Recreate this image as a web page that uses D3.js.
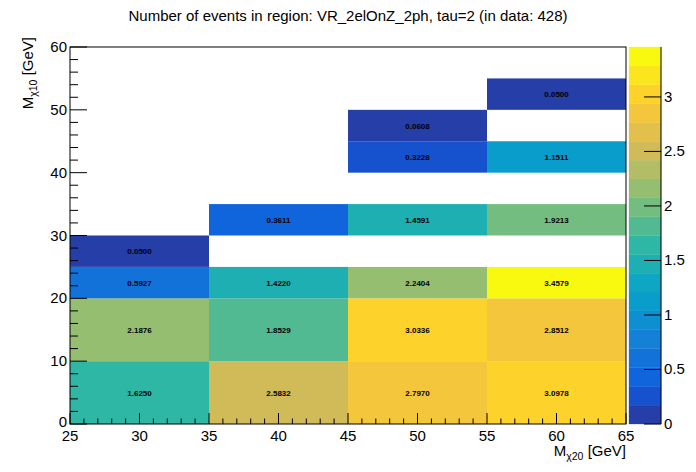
<!DOCTYPE html>
<html>
<head>
<meta charset="utf-8">
<script src="https://cdn.jsdelivr.net/npm/d3@7"></script>
<style>
  body { margin: 0; background: #fff; }
  svg { display: block; font-family: "Liberation Sans", Arial, Helvetica, sans-serif; }
</style>
</head>
<body>
<svg id="c" width="696" height="472"></svg>
<script>
// ---- data ----
const xEdges = [25, 35, 45, 55, 65];
const yEdges = [0, 10, 20, 25, 30, 35, 40, 45, 50, 55, 60];
// cells: [xBinIndex, yBinIndex, value]
const cellX = [0, 1, 2, 3, 0, 1, 2, 3, 0, 1, 2, 3, 0, 1, 2, 3, 2, 3, 2, 3];
const cellY = [0, 0, 0, 0, 1, 1, 1, 1, 2, 2, 2, 2, 3, 4, 4, 4, 6, 6, 7, 8];
const cellV = [1.6250, 2.5832, 2.7970, 3.0978,
               2.1876, 1.8529, 3.0336, 2.8512,
               0.5927, 1.4220, 2.2404, 3.4579,
               0.0500, 0.3611, 1.4591, 1.9213,
               0.3228, 1.1511, 0.0608, 0.0500];
const xTicks = [25, 30, 35, 40, 45, 50, 55, 60, 65];
const yTicks = [0, 10, 20, 30, 40, 50, 60];
const zTicks = [0, 0.5, 1, 1.5, 2, 2.5, 3];
const titleText = "Number of events in region: VR_2elOnZ_2ph, tau=2 (in data: 428)";

// ---- kBird palette (ROOT) ----
const stops = [0.0000, 0.1250, 0.2500, 0.3750, 0.5000, 0.6250, 0.7500, 0.8750, 1.0000];
const red   = [0.2082, 0.0592, 0.0780, 0.0232, 0.1802, 0.5301, 0.8186, 0.9956, 0.9764];
const green = [0.1664, 0.3599, 0.5041, 0.6419, 0.7178, 0.7492, 0.7328, 0.7862, 0.9832];
const blue  = [0.5293, 0.8684, 0.8385, 0.7914, 0.6425, 0.4662, 0.3499, 0.1968, 0.0539];
const NCOL = 255;
const palette = [];
for (let g = 1; g < stops.length; g++) {
  const n = Math.floor(NCOL * stops[g]) - Math.floor(NCOL * stops[g - 1]);
  for (let c = 0; c < n; c++) {
    const r = red[g - 1] + c * (red[g] - red[g - 1]) / n;
    const gg = green[g - 1] + c * (green[g] - green[g - 1]) / n;
    const b = blue[g - 1] + c * (blue[g] - blue[g - 1]) / n;
    palette.push(d3.rgb(Math.round(r * 255), Math.round(gg * 255), Math.round(b * 255)).formatHex());
  }
}
const NDIV = 20;
const zmin = 0, zmax = d3.max(cellV);
function bandColor(i) {
  const idx = Math.floor((i + 0.99) * palette.length / NDIV);
  return palette[Math.min(idx, palette.length - 1)];
}
function valueColor(v) {
  let i = Math.floor(0.01 + (v - zmin) * NDIV / (zmax - zmin));
  if (i > NDIV - 1) i = NDIV - 1;
  return bandColor(i);
}

// ---- layout ----
const svg = d3.select("#c");
const L = 70, R = 626, T = 47, B = 424;
const x = d3.scaleLinear().domain([25, 65]).range([L, R]);
const y = d3.scaleLinear().domain([0, 60]).range([B, T]);

// cells
const cells = cellV.map((v, i) => ({ xi: cellX[i], yi: cellY[i], v }));
svg.append("g").selectAll("rect").data(cells).join("rect")
  .attr("x", d => x(xEdges[d.xi]))
  .attr("y", d => y(yEdges[d.yi + 1]))
  .attr("width", d => x(xEdges[d.xi + 1]) - x(xEdges[d.xi]))
  .attr("height", d => y(yEdges[d.yi]) - y(yEdges[d.yi + 1]))
  .attr("fill", d => valueColor(d.v));

svg.append("g").selectAll("text").data(cells).join("text")
  .attr("x", d => (x(xEdges[d.xi]) + x(xEdges[d.xi + 1])) / 2)
  .attr("y", d => (y(yEdges[d.yi]) + y(yEdges[d.yi + 1])) / 2 + 3)
  .attr("text-anchor", "middle")
  .attr("font-size", "8px")
  .attr("font-weight", "bold")
  .attr("fill", "#000")
  .text(d => d.v.toFixed(4));

// frame
svg.append("rect").attr("x", L).attr("y", T).attr("width", R - L).attr("height", B - T)
  .attr("fill", "none").attr("stroke", "#000").attr("stroke-width", 1);

// x axis ticks
const gx = svg.append("g").attr("stroke", "#000").attr("stroke-width", 1);
d3.range(25, 66, 1).forEach(v => {
  const major = v % 5 === 0;
  gx.append("line").attr("x1", x(v)).attr("x2", x(v))
    .attr("y1", B).attr("y2", B - (major ? 11 : 5.5));
});
svg.append("g").selectAll("text").data(xTicks).join("text")
  .attr("x", d => x(d)).attr("y", 441)
  .attr("text-anchor", "middle").attr("font-size", "15px")
  .text(d => d);

// y axis ticks
const gy = svg.append("g").attr("stroke", "#000").attr("stroke-width", 1);
d3.range(0, 61, 2).forEach(v => {
  const major = v % 10 === 0;
  gy.append("line").attr("x1", L).attr("x2", L + (major ? 17 : 8))
    .attr("y1", y(v)).attr("y2", y(v));
});
svg.append("g").selectAll("text").data(yTicks).join("text")
  .attr("x", 67).attr("y", d => y(d) + (d === 0 ? 3 : 5))
  .attr("text-anchor", "end").attr("font-size", "15px")
  .text(d => d);

// axis titles
const xt = svg.append("text").attr("x", R).attr("y", 456)
  .attr("text-anchor", "end").attr("font-size", "15px");
xt.append("tspan").text("M");
xt.append("tspan").attr("font-size", "10.5px").attr("dy", 4).text("χ20");
xt.append("tspan").attr("dy", -4).text(" [GeV]");

const yt = svg.append("text").attr("transform", "translate(33,37) rotate(-90)")
  .attr("text-anchor", "end").attr("font-size", "15px");
yt.append("tspan").text("M");
yt.append("tspan").attr("font-size", "10.5px").attr("dy", 4).text("χ10");
yt.append("tspan").attr("dy", -4).text(" [GeV]");

// title
svg.append("text").attr("x", 348).attr("y", 21).attr("text-anchor", "middle")
  .attr("font-size", "15px").text(titleText);

// palette
const PL = 629, PR = 661;
const z = d3.scaleLinear().domain([zmin, zmax]).range([B, T]);
const bands = d3.range(NDIV);
const dz = (zmax - zmin) / NDIV;
svg.append("g").selectAll("rect").data(bands).join("rect")
  .attr("x", PL).attr("width", PR - PL)
  .attr("y", i => z(zmin + (i + 1) * dz))
  .attr("height", i => z(zmin + i * dz) - z(zmin + (i + 1) * dz))
  .attr("fill", i => bandColor(i))
  .attr("stroke", i => bandColor(i)).attr("stroke-width", 0.3);
svg.append("line").attr("x1", PR).attr("x2", PR).attr("y1", T).attr("y2", B)
  .attr("stroke", "#000");
svg.append("g").selectAll("line").data(zTicks).join("line")
  .attr("x1", PR - 17).attr("x2", PR)
  .attr("y1", d => z(d)).attr("y2", d => z(d)).attr("stroke", "#000");
svg.append("g").selectAll("text").data(zTicks).join("text")
  .attr("x", 664).attr("y", d => z(d) + 5)
  .attr("font-size", "15px").text(d => d);
</script>
</body>
</html>
